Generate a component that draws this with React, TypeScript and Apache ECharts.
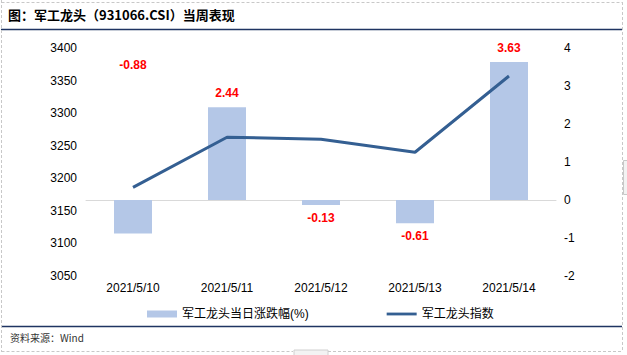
import React, { useEffect, useRef } from "react";
import * as echarts from "echarts";

const categories = ["2021/5/10", "2021/5/11", "2021/5/12", "2021/5/13", "2021/5/14"];
const changePct = [-0.88, 2.44, -0.13, -0.61, 3.63];
const indexValues = [3186, 3263, 3260, 3240, 3357];
const seriesNames = ["军工龙头当日涨跌幅(%)", "军工龙头指数"];
const titleText = "图：军工龙头（931066.CSI）当周表现";
const sourceText = "资料来源：Wind";

const FONT = "'Liberation Sans', Arial, 'Noto Sans CJK SC', sans-serif";

export default function App() {
  const ref = useRef<HTMLDivElement>(null);
  useEffect(() => {
    if (!ref.current) return;
    const chart = echarts.init(ref.current, null, { renderer: "svg" });
    const barData = changePct.map((v, i) => {
      if (i === 0) {
        return {
          value: v,
          label: { position: "top", distance: 5, offset: [0, -124] },
        };
      }
      return {
        value: v,
        label: v >= 0 ? { position: "top", distance: 8 } : { position: "bottom", distance: 7 },
      };
    });
    chart.setOption({
      animation: false,
      backgroundColor: "#ffffff",
      textStyle: { fontFamily: FONT },
      grid: { left: 86, right: 71, top: 48, bottom: 79 },
      legend: {
        left: 142,
        top: 303,
        itemWidth: 30,
        itemHeight: 7,
        itemGap: 78,
        textStyle: { fontSize: 12, color: "#000", fontFamily: FONT },
        data: [
          { name: seriesNames[0], icon: "rect" },
          { name: seriesNames[1], icon: "path://M0,0 L32,0 L32,3 L0,3 Z" },
        ],
      },
      xAxis: {
        type: "category",
        data: categories,
        boundaryGap: true,
        axisLine: { lineStyle: { color: "#d9d9d9", width: 1 } },
        axisTick: { inside: true, length: 4, lineStyle: { color: "#d9d9d9" } },
        axisLabel: { color: "#000", fontSize: 12, margin: 6, fontFamily: FONT },
        splitLine: { show: false },
      },
      yAxis: [
        {
          type: "value",
          min: 3050,
          max: 3400,
          interval: 50,
          axisLine: { show: false },
          axisTick: { show: false },
          splitLine: { show: false },
          axisLabel: {
            color: "#000",
            fontSize: 12,
            margin: 9,
            fontFamily: FONT,
            formatter: (v: number) => String(v),
          },
        },
        {
          type: "value",
          min: -2,
          max: 4,
          interval: 1,
          axisLine: { show: false },
          axisTick: { show: false },
          splitLine: { show: false },
          axisLabel: { color: "#000", fontSize: 12, margin: 8, fontFamily: FONT },
        },
      ],
      series: [
        {
          name: seriesNames[0],
          type: "bar",
          yAxisIndex: 1,
          barWidth: 38,
          itemStyle: { color: "#b4c7e7" },
          label: {
            show: true,
            color: "#ff0000",
            fontWeight: "bold",
            fontSize: 12,
            fontFamily: FONT,
          },
          data: barData,
          z: 1,
        },
        {
          name: seriesNames[1],
          type: "line",
          yAxisIndex: 0,
          symbol: "none",
          lineStyle: { color: "#345f92", width: 3 },
          itemStyle: { color: "#345f92" },
          data: indexValues,
          z: 3,
        },
      ],
      graphic: [
        {
          type: "text",
          left: 8,
          top: 8,
          style: {
            text: titleText,
            fontSize: 13,
            fontWeight: "bold",
            fill: "#000",
            fontFamily: "'Noto Sans CJK SC', sans-serif",
          },
        },
        {
          type: "line",
          shape: { x1: 1, y1: 29.5, x2: 622, y2: 29.5 },
          style: { stroke: "#1f3462", lineWidth: 1.5 },
        },
        {
          type: "line",
          shape: { x1: 1, y1: 326.5, x2: 622, y2: 326.5 },
          style: { stroke: "#1f3462", lineWidth: 1.5 },
        },
        {
          type: "text",
          left: 10,
          top: 332,
          style: {
            text: sourceText,
            fontSize: 10,
            fill: "#333",
            fontFamily: "'Noto Sans CJK SC', sans-serif",
          },
        },
        {
          type: "line",
          shape: { x1: 1.5, y1: 0, x2: 1.5, y2: 352 },
          style: { stroke: "#c8c8c8", lineWidth: 1, lineDash: [3, 2] },
        },
        {
          type: "line",
          shape: { x1: 622.5, y1: 2, x2: 622.5, y2: 352 },
          style: { stroke: "#c8c8c8", lineWidth: 1, lineDash: [3, 2] },
        },
        {
          type: "line",
          shape: { x1: 1.5, y1: 2.5, x2: 622.5, y2: 2.5 },
          style: { stroke: "#c8c8c8", lineWidth: 1, lineDash: [3, 2] },
        },
        {
          type: "line",
          shape: { x1: 1.5, y1: 351.5, x2: 293, y2: 351.5 },
          style: { stroke: "#c8c8c8", lineWidth: 1, lineDash: [3, 2] },
        },
        {
          type: "line",
          shape: { x1: 328, y1: 351.5, x2: 622.5, y2: 351.5 },
          style: { stroke: "#c8c8c8", lineWidth: 1, lineDash: [3, 2] },
        },
        {
          type: "rect",
          shape: { x: 294, y: 350, width: 34, height: 6 },
          style: { fill: "#f3f3f3", stroke: "#d0d0d0", lineWidth: 1 },
        },
        {
          type: "rect",
          shape: { x: 623.5, y: 160.5, width: 6, height: 34 },
          style: { fill: "#f3f3f3", stroke: "#c8c8c8", lineWidth: 1 },
        },
      ],
    });
    return () => chart.dispose();
  }, []);
  return (
    <div
      ref={ref}
      style={{ position: "fixed", left: 0, top: 0, width: 627, height: 355 }}
    />
  );
}
